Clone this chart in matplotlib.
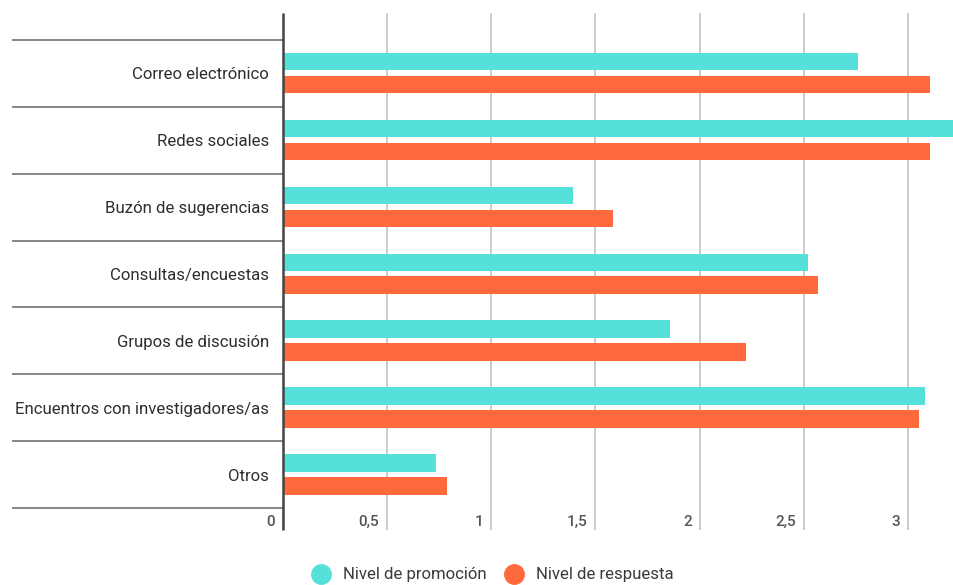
import matplotlib
matplotlib.use("Agg")
import matplotlib.pyplot as plt
import matplotlib.transforms as mtransforms
from matplotlib.lines import Line2D
import numpy as np

plt.rcParams['font.family'] = ['Roboto', 'DejaVu Sans']

categories = ["Correo electrónico", "Redes sociales", "Buzón de sugerencias",
              "Consultas/encuestas", "Grupos de discusión",
              "Encuentros con investigadores/as", "Otros"]
promocion = [2.76, 3.30, 1.39, 2.52, 1.86, 3.08, 0.735]
respuesta = [3.105, 3.105, 1.585, 2.57, 2.225, 3.055, 0.785]
xticks = [0, 0.5, 1, 1.5, 2, 2.5, 3]
xticklabels = ["0", "0,5", "1", "1,5", "2", "2,5", "3"]
series_names = ["Nivel de promoción", "Nivel de respuesta"]

teal = "#55E0DA"
orange = "#FF6A3C"

W, H = 954, 585
fig = plt.figure(figsize=(W / 100, H / 100), dpi=100)
ax = fig.add_axes([283 / W, 1 - 508 / H, (954 - 283) / W, (508 - 13) / H])

y = np.arange(len(categories))
bh = 0.262
ax.barh(y - 0.175, promocion, height=bh, color=teal, zorder=3)
ax.barh(y + 0.168, respuesta, height=bh, color=orange, zorder=3)

ax.set_xlim(0, (954 - 283) / 208.3)
ax.set_ylim(6.5, -0.5 - 27 / 66.9)

for s in ax.spines.values():
    s.set_visible(False)

ax.set_xticks(xticks)
ax.set_xticklabels([])
ax.tick_params(axis='x', length=15.8, width=1.4, color="#cccccc", direction='out')
ax.grid(axis='x', color="#cccccc", linewidth=1.4, zorder=0)

ax.set_yticks(y)
ax.set_yticklabels(categories, fontsize=12.1, color="#2e2e2e")
ax.tick_params(axis='y', which='major', length=0, pad=10)
ax.set_yticks(np.arange(-0.5, 7.0, 1.0), minor=True)
ax.tick_params(axis='y', which='minor', length=195, width=1.1, color="#666666")

# left axis line extending below
ax.plot([0, 0], [1, -22 / 495], transform=ax.transAxes, color="#444444",
        linewidth=1.8, clip_on=False, zorder=5, solid_capstyle='butt')

trans = mtransforms.blended_transform_factory(ax.transData, fig.transFigure)
off = mtransforms.ScaledTranslation(-8 / 100, 0, fig.dpi_scale_trans)
for xv, lab in zip(xticks, xticklabels):
    ax.text(xv, 1 - 522 / H, lab, transform=trans + off, ha='right', va='center',
            fontsize=11, color="#555555", fontweight='medium')

handles = [Line2D([], [], marker='o', linestyle='none', markersize=14,
                  markerfacecolor=c, markeredgecolor=c) for c in (teal, orange)]
fig.legend(handles, series_names, loc='center', bbox_to_anchor=(489 / W, 1 - 575 / H),
           ncol=2, frameon=False, fontsize=12.1, handletextpad=0.3, columnspacing=0.6,
           labelcolor="#3a3a3a")

fig.savefig("out.png", dpi=100)
